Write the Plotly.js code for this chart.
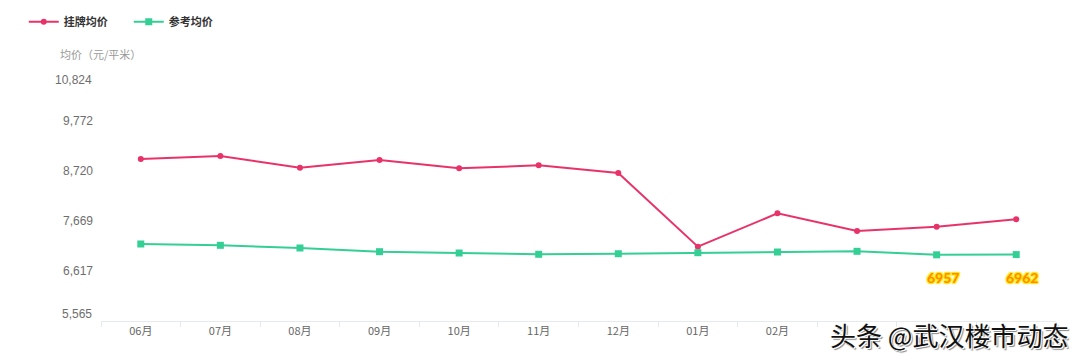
<!DOCTYPE html>
<html>
<head>
<meta charset="utf-8">
<script src="https://cdn.plot.ly/plotly-3.0.1.min.js"></script>
<style>html,body{margin:0;padding:0;background:#fff;}#chart{width:1080px;height:363px;}</style>
</head>
<body>
<div id="chart"></div>
<script>
const months = ["06月","07月","08月","09月","10月","11月","12月","01月","02月","03月","04月","05月"];
const monthLabels = ["06月","07月","08月","09月","10月","11月","12月","01月","02月","","",""];
const listingPrice = [8973, 9036, 8790, 8952, 8777, 8840, 8678, 7128, 7830, 7458, 7549, 7704];
const referencePrice = [7185, 7157, 7101, 7023, 6995, 6968, 6980, 7002, 7016, 7031, 6957, 6962];
const seriesNames = ["挂牌均价", "参考均价"];
const yTicks = [5565, 6617, 7669, 8720, 9772, 10824];
const yTickText = ["5,565", "6,617", "7,669", "8,720", "9,772", "10,824"];
const labelledIdx = [10, 11];
const yTitle = "均价（元/平米）";
const watermark = "头条 @武汉楼市动态";

const RED = "#e8336a";
const GREEN = "#34cf95";
const numFont = "Liberation Sans, Arial, Noto Sans CJK SC, sans-serif";
const cjkFont = "Noto Sans CJK SC, Liberation Sans, sans-serif";

const traces = [
  {x: months, y: listingPrice, name: seriesNames[0], type: "scatter", mode: "lines+markers",
   line: {color: RED, width: 2}, marker: {color: RED, size: 6, symbol: "circle"}},
  {x: months, y: referencePrice, name: seriesNames[1], type: "scatter", mode: "lines+markers",
   line: {color: GREEN, width: 2}, marker: {color: GREEN, size: 7, symbol: "square"}}
];

const midTickIdx = [1, 2, 3, 4];
const annotations = [
  {xref: "paper", yref: "paper", x: 0, y: 1, xshift: -43, yshift: 7, xanchor: "left", yanchor: "bottom",
   text: yTitle, showarrow: false, font: {family: cjkFont, size: 11, color: "#999"}},
  {xref: "paper", yref: "y", x: 0, y: yTicks[5], xshift: -7, yshift: -9, xanchor: "right", yanchor: "middle",
   text: yTickText[5], showarrow: false, font: {family: numFont, size: 12, color: "#6e6e6e"}},
  {xref: "paper", yref: "y", x: 0, y: yTicks[0], xshift: -7, yshift: 7, xanchor: "right", yanchor: "middle",
   text: yTickText[0], showarrow: false, font: {family: numFont, size: 12, color: "#6e6e6e"}}
];
labelledIdx.forEach(i => annotations.push({
  x: months[i], y: referencePrice[i], xref: "x", yref: "y", yshift: -23, xshift: 6,
  text: "<b>" + referencePrice[i] + "</b>", showarrow: false,
  font: {family: "Lato, Liberation Sans, sans-serif", size: 14, color: "#ff8a00",
         shadow: "1px 1px 1px #ffe600, -1px -1px 1px #ffe600, 1px -1px 1px #ffe600, -1px 1px 1px #ffe600"}
}));
annotations.push({
  xref: "paper", yref: "paper", x: 1.015, y: 0, yshift: -13, xanchor: "right", yanchor: "middle",
  text: watermark, showarrow: false,
  font: {family: cjkFont, size: 26, color: "#111",
         shadow: "1px 1px 0 #fff, -1px -1px 0 #fff, 2px 2px 1px #888"}
});

const layout = {
  width: 1080, height: 363,
  margin: {l: 101, r: 24, t: 71, b: 42, autoexpand: false},
  paper_bgcolor: "#fff", plot_bgcolor: "#fff",
  showlegend: true,
  legend: {orientation: "h", xref: "container", yref: "container", x: 0.022, y: 0.94,
           xanchor: "left", yanchor: "middle",
           itemwidth: 30, entrywidth: 60, entrywidthmode: "pixels",
           font: {family: cjkFont, size: 11, color: "#333", weight: "bold"},
           tracegroupgap: 0},
  xaxis: {type: "category", showgrid: false, zeroline: false,
          showline: true, linecolor: "#e6e9ee", linewidth: 1,
          ticks: "outside", ticklen: 5, tickcolor: "#e6e9ee", tickson: "boundaries",
          tickvals: months, ticktext: monthLabels,
          tickfont: {family: cjkFont, size: 11, color: "#666"}, range: [-0.5, 11.5]},
  yaxis: {range: [yTicks[0], yTicks[5]], showgrid: false, zeroline: false, showline: false,
          tickvals: midTickIdx.map(i => yTicks[i]), ticktext: midTickIdx.map(i => yTickText[i]),
          ticks: "", ticklabelstandoff: 7,
          tickfont: {family: numFont, size: 12, color: "#6e6e6e"}},
  annotations: annotations
};

Plotly.newPlot("chart", traces, layout, {displayModeBar: false, staticPlot: true});
</script>
</body>
</html>
